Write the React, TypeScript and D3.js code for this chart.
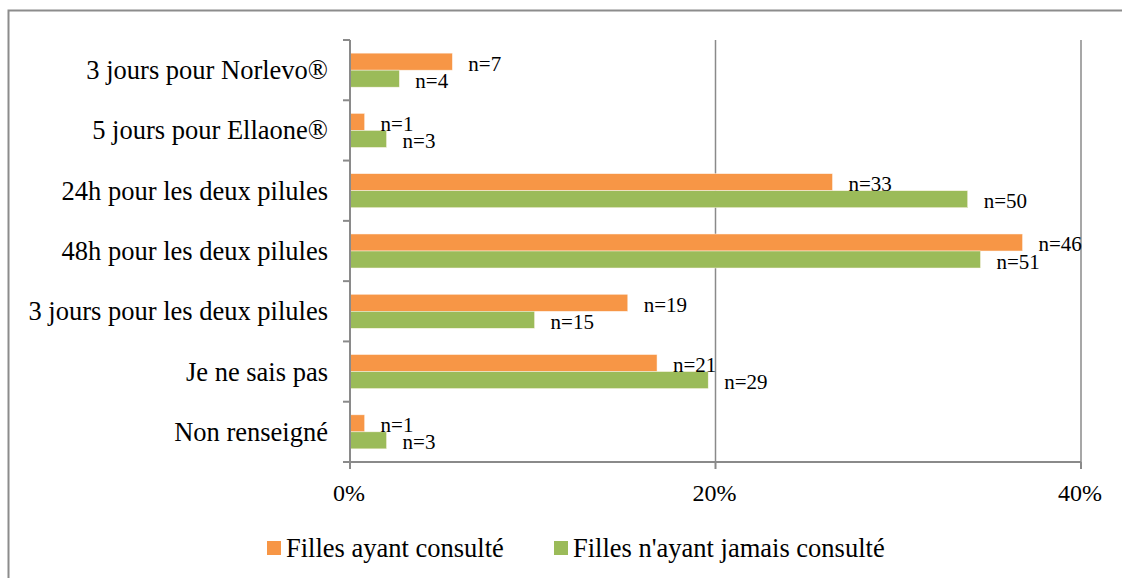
import React from "react";
import * as d3 from "d3";

const categories = [
  "3 jours pour Norlevo®",
  "5 jours pour Ellaone®",
  "24h pour les deux pilules",
  "48h pour les deux pilules",
  "3 jours pour les deux pilules",
  "Je ne sais pas",
  "Non renseigné",
];
const seriesNames = ["Filles ayant consulté", "Filles n'ayant jamais consulté"];
const consultedPct = [5.6, 0.8, 26.4, 36.8, 15.2, 16.8, 0.8];
const neverPct = [2.7, 2.0, 33.8, 34.5, 10.1, 19.6, 2.0];
const consultedN = ["n=7", "n=1", "n=33", "n=46", "n=19", "n=21", "n=1"];
const neverN = ["n=4", "n=3", "n=50", "n=51", "n=15", "n=29", "n=3"];
const xTicks = [0, 20, 40];
const colors = ["#F79646", "#9BBB59"];

const W = 1122;
const H = 578;
const txt: React.CSSProperties = { fontFamily: "Liberation Serif" };

export default function App() {
  const x = d3.scaleLinear().domain([0, 40]).range([350, 1081]);
  const y = d3
    .scaleBand<string>()
    .domain(categories)
    .range([40, 462])
    .paddingInner(0.436)
    .paddingOuter(0.218);
  const barH = y.bandwidth() / 2;
  const step = y.step();
  const series = [
    { vals: consultedPct, labels: consultedN },
    { vals: neverPct, labels: neverN },
  ];
  const boundaries = d3.range(categories.length + 1).map((i) => 40 + i * step);
  const legendX = [267, 554];

  return (
    <svg
      width={W}
      height={H}
      style={{ position: "absolute", left: 0, top: 0, background: "#fff" }}
    >
      <path d={`M8.5,${H} L8.5,10.5 L${W},10.5`} fill="none" stroke="#8c8c8c" strokeWidth={2} />

      {xTicks.slice(1).map((t) => (
        <line key={t} x1={x(t)} x2={x(t)} y1={40} y2={462} stroke="#8a8a8a" strokeWidth={1.5} />
      ))}

      {series.map((s, si) =>
        categories.map((c, i) => (
          <rect
            key={`${si}-${i}`}
            x={x(0)}
            y={(y(c) as number) + si * barH}
            width={x(s.vals[i]) - x(0)}
            height={barH}
            fill={colors[si]}
            stroke="#fdf3ea"
            strokeWidth={0.5}
          />
        ))
      )}

      {series.map((s, si) =>
        categories.map((c, i) => (
          <text
            key={`l${si}-${i}`}
            x={x(s.vals[i]) + 16}
            y={(y(c) as number) + si * barH + barH / 2 + 2}
            dominantBaseline="central"
            fontSize={21}
            fill="#000"
            style={txt}
          >
            {s.labels[i]}
          </text>
        ))
      )}

      <line x1={350} x2={350} y1={40} y2={462} stroke="#8a8a8a" strokeWidth={2} />
      <line x1={343} x2={1081} y1={462} y2={462} stroke="#8a8a8a" strokeWidth={2} />
      {boundaries.map((b, i) => (
        <line key={`yt${i}`} x1={343} x2={350} y1={b} y2={b} stroke="#8a8a8a" strokeWidth={2} />
      ))}
      {xTicks.map((t) => (
        <line key={`xt${t}`} x1={x(t)} x2={x(t)} y1={462} y2={469} stroke="#8a8a8a" strokeWidth={2} />
      ))}

      {xTicks.map((t) => (
        <text
          key={`xl${t}`}
          x={x(t) - 1}
          y={493}
          textAnchor="middle"
          dominantBaseline="central"
          fontSize={24}
          fill="#000"
          style={txt}
        >
          {`${t}%`}
        </text>
      ))}

      {categories.map((c) => (
        <text
          key={`c${c}`}
          x={328}
          y={(y(c) as number) + y.bandwidth() / 2}
          textAnchor="end"
          dominantBaseline="central"
          fontSize={26.5}
          fill="#000"
          style={txt}
        >
          {c}
        </text>
      ))}

      {seriesNames.map((n, i) => (
        <g key={n}>
          <rect x={legendX[i]} y={541} width={14} height={14} fill={colors[i]} />
          <text
            x={legendX[i] + 19}
            y={548}
            dominantBaseline="central"
            fontSize={26.5}
            fill="#000"
            style={txt}
          >
            {n}
          </text>
        </g>
      ))}
    </svg>
  );
}
